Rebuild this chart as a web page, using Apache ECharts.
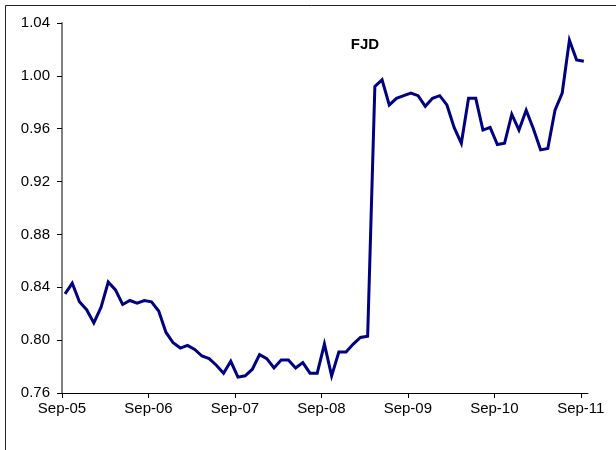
<!DOCTYPE html>
<html>
<head>
<meta charset="utf-8">
<script src="https://cdn.jsdelivr.net/npm/echarts@6/dist/echarts.min.js"></script>
<style>
html,body{margin:0;padding:0;background:#fff;}
#chart{width:616px;height:450px;}
</style>
</head>
<body>
<div id="chart"></div>
<script>
// Monthly FJD values, Sep-05 .. Sep-11
const fjdValues = [
  0.835, 0.843, 0.829, 0.823, 0.813, 0.825, 0.844, 0.838, 0.827, 0.830, 0.828, 0.830,
  0.829, 0.822, 0.806, 0.798, 0.794, 0.796, 0.793, 0.788, 0.786, 0.781, 0.775, 0.784,
  0.772, 0.773, 0.778, 0.789, 0.786, 0.779, 0.785, 0.785, 0.779, 0.783, 0.775, 0.775,
  0.797, 0.773, 0.791, 0.791, 0.797, 0.802, 0.803, 0.992, 0.997, 0.978, 0.983, 0.985,
  0.987, 0.985, 0.977, 0.983, 0.985, 0.978, 0.961, 0.949, 0.983, 0.983, 0.959, 0.961,
  0.948, 0.949, 0.971, 0.959, 0.974, 0.960, 0.944, 0.945, 0.974, 0.987, 1.027, 1.012,
  1.011
];
const xTickLabels = ['Sep-05', 'Sep-06', 'Sep-07', 'Sep-08', 'Sep-09', 'Sep-10', 'Sep-11'];
const yTicks = [0.76, 0.80, 0.84, 0.88, 0.92, 0.96, 1.00, 1.04];
const seriesName = 'FJD';

// observations fall a little after the start of each month
const monthOffset = 0.42;
const tickMonths = xTickLabels.map((_, k) => k * 12);
const lineData = fjdValues.map((v, i) => [i + monthOffset, v]);

const FONT = "'Liberation Sans', Arial, sans-serif";
const chart = echarts.init(document.getElementById('chart'), null, {renderer: 'canvas'});
chart.setOption({
  animation: false,
  backgroundColor: '#ffffff',
  grid: {left: 62, right: 28, top: 23, bottom: 57, containLabel: false},
  xAxis: {
    type: 'value',
    min: 0,
    max: 73,
    interval: 12,
    splitLine: {show: false},
    axisLine: {show: true, onZero: false, lineStyle: {color: '#000', width: 1}},
    axisTick: {show: true, length: 5, inside: false, customValues: tickMonths, lineStyle: {color: '#000'}},
    axisLabel: {
      customValues: tickMonths,
      margin: 8,
      color: '#000',
      fontFamily: FONT,
      fontSize: 15,
      formatter: v => xTickLabels[Math.round(v / 12)] || ''
    }
  },
  yAxis: {
    type: 'value',
    min: yTicks[0],
    max: yTicks[yTicks.length - 1],
    interval: 0.04,
    splitLine: {show: false},
    axisLine: {show: true, onZero: false, lineStyle: {color: '#808080', width: 2}},
    axisTick: {show: true, length: 5, lineStyle: {color: '#000'}},
    axisLabel: {
      margin: 12,
      color: '#000',
      fontFamily: FONT,
      fontSize: 15,
      formatter: v => v.toFixed(2)
    }
  },
  graphic: [
    {
      type: 'rect',
      shape: {x: 5.5, y: 5.5, width: 800, height: 800},
      style: {fill: 'none', stroke: '#222', lineWidth: 1},
      silent: true,
      z: -1
    },
    {
      type: 'text',
      x: 365,
      y: 45,
      style: {
        text: seriesName,
        fill: '#000',
        font: 'bold 15px ' + FONT,
        textAlign: 'center',
        textVerticalAlign: 'middle'
      }
    }
  ],
  series: [{
    name: seriesName,
    type: 'line',
    data: lineData,
    showSymbol: false,
    symbol: 'none',
    lineStyle: {color: '#000080', width: 3, join: 'miter'},
    clip: false
  }]
});
</script>
</body>
</html>
